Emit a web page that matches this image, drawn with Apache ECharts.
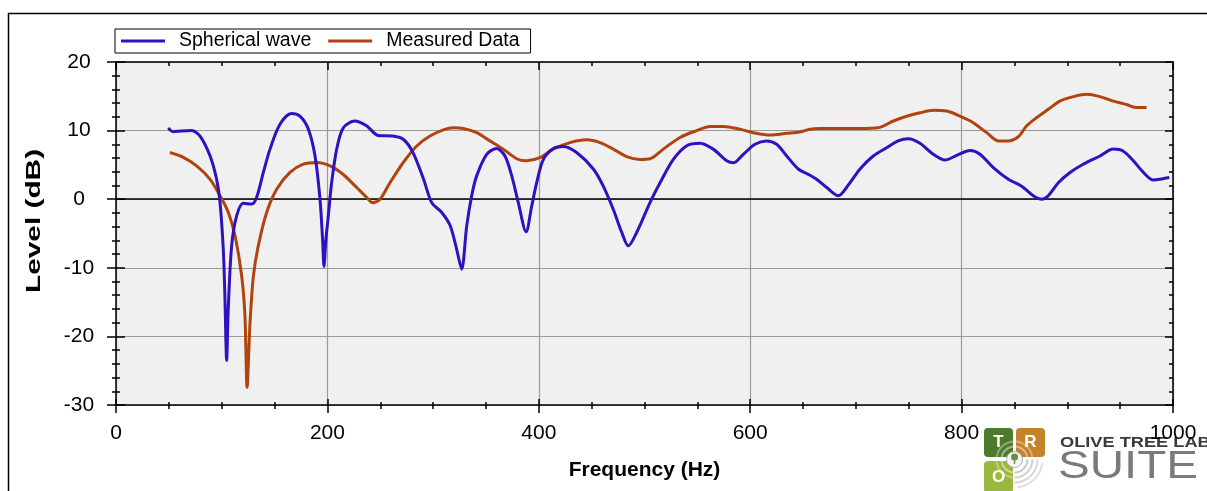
<!DOCTYPE html>
<html><head><meta charset="utf-8">
<script src="https://cdn.jsdelivr.net/npm/echarts@6/dist/echarts.min.js"></script>
<style>html,body{margin:0;padding:0;background:#fff}#c{width:1207px;height:491px}</style>
</head><body><div id="c"></div>
<script>
// ---- data ----
const sphericalFreq = [49.5,54,62,71.6,79.5,89,95.2,98.4,101.5,103,104.7,106.2,109.4,114.2,120.5,128.4,133,139.4,145.7,155,166,174,182,188.3,193,195.5,196.8,198.5,200.9,204,208.8,215,226,237,248,262,272,281,291,298.7,308,316,322.3,327,331.8,336.5,341.2,350.7,360,368,374.4,380.6,388,393.3,398,404.3,413.7,423.2,435.8,451.6,461,470.5,478.4,484.7,492.6,505.2,514.7,527.3,540,552.5,565,577.8,584,593.5,604.5,615.6,625,634.5,645.5,656.6,662.8,672.4,683.3,694.4,703.9,716.4,729,740,749.6,760.6,773.2,784.3,795.4,808,817.4,830,844.2,856.8,867.8,875.8,882,891.5,902.6,915,931,943.5,953,962.5,972,981.4,987.7,996.5];
const sphericalLevel = [10.4,9.85,9.95,10.0,9.2,6.3,2.9,-0.45,-7.3,-14,-23.5,-16,-6.8,-2.4,-0.6,-0.7,0.25,3.9,7.3,10.9,12.5,12.1,10.2,6.3,0,-6,-9.8,-6,-2.4,2.4,7.3,10.4,11.4,10.7,9.3,9.2,8.7,6.8,2.9,-0.5,-1.9,-3.8,-7.3,-10.2,-3.9,0.5,3.4,6.55,7.4,6.3,3.4,-0.5,-4.75,-1,2.4,5.8,7.4,7.7,6.8,4.4,1.9,-1.5,-4.8,-6.8,-4.85,-0.5,2.4,5.8,7.8,8.15,7.3,5.6,5.3,6.55,8.0,8.5,8.0,6.3,4.4,3.5,2.9,1.7,0.5,2.4,4.4,6.3,7.5,8.5,8.8,8.15,6.55,5.7,6.4,7.1,6.55,4.6,2.9,1.9,0.5,0,0.5,2.4,3.9,5.1,6.3,7.3,7.0,5.6,3.9,2.8,2.9,3.15];
const measuredFreq = [51,63.7,76.3,89,98.4,106.2,112.6,118.9,122,124,126.8,130,134.6,142.6,152,164.6,177.2,189.9,202.5,215,227.7,237.2,242.8,249.8,259.2,271.8,284.5,297,309.7,319.1,328.6,341.2,353.8,366.4,379,388.5,401,413.7,429.5,445.3,457.9,470.5,483.1,495.7,505.2,517.8,533.6,549.4,562,574.6,590.3,603,618.7,634.5,647,656.6,666,685,704,721,735.4,748,760.6,773.2,785.8,798.5,811,823.7,834.7,844.2,853.6,861.6,871,882,893,905.7,918.3,931,943.5,956,965.6,975];
const measuredLevel = [6.8,6.1,4.85,2.9,0.5,-1.9,-5.3,-11.2,-17,-27.4,-18,-11.2,-6.8,-1.9,1.45,3.9,5.1,5.35,4.85,3.6,1.7,0.25,-0.5,0,2.4,5.35,7.75,9.2,10.1,10.4,10.3,9.7,8.5,7.3,5.9,5.6,6.05,7.3,8.25,8.65,8.25,7.3,6.2,5.8,5.9,7.3,9.0,10.0,10.6,10.6,10.2,9.7,9.35,9.6,9.8,10.2,10.3,10.3,10.3,10.4,11.4,12.1,12.6,12.95,12.85,12.1,11.15,9.7,8.5,8.5,9.1,10.7,11.9,13.1,14.3,14.95,15.3,14.95,14.3,13.8,13.35,13.35];
const seriesNames = ['Spherical wave', 'Measured Data'];
const xRange = [0, 1000], xStep = 200;
const yRange = [-30, 20], yStep = 10;
const xTitle = 'Frequency (Hz)';
const yTitle = 'Level (dB)';

// ---- chart ----
const FONT = '"Liberation Sans", Arial, sans-serif';
const zip = (a, b) => a.map((v, i) => [v, b[i]]);
const blk = { color: '#000', width: 1.5 };
const xBase = { type: 'value', min: xRange[0], max: xRange[1], interval: xStep, axisLabel: { show: false }, splitLine: { show: false } };
const yBase = { type: 'value', min: yRange[0], max: yRange[1], interval: yStep, axisLabel: { show: false }, splitLine: { show: false } };

const chart = echarts.init(document.getElementById('c'));
chart.setOption({
  animation: false,
  backgroundColor: '#fff',
  grid: { left: 116, right: 34, top: 62, bottom: 86, show: true, backgroundColor: '#f0f0f0', borderWidth: 0 },
  legend: {
    left: 115, top: 29, orient: 'horizontal', icon: 'rect',
    borderColor: '#000', borderWidth: 1, backgroundColor: '#fff',
    padding: [2, 11, 2, 6], itemGap: 17, itemWidth: 44, itemHeight: 3,
    textStyle: { fontSize: 19.5, color: '#000', fontFamily: FONT, padding: [0, 0, 0, 9] },
    data: seriesNames
  },
  xAxis: [
    Object.assign({}, xBase, {
      position: 'bottom',
      axisLine: { onZero: false, lineStyle: blk },
      axisTick: { show: true, inside: false, length: 8, lineStyle: blk },
      minorTick: { show: true, splitNumber: 4, length: 4, lineStyle: blk },
      axisLabel: { show: true, margin: 28, fontSize: 21, color: '#000', fontFamily: FONT, verticalAlign: 'middle', formatter: v => String(v) },
      splitLine: { show: true, lineStyle: { color: '#9a9a9a', width: 1.2 } }
    }),
    Object.assign({}, xBase, {
      position: 'bottom',
      axisLine: { show: false, onZero: false },
      axisTick: { show: true, inside: true, length: 6, lineStyle: blk },
      minorTick: { show: true, splitNumber: 4, length: 3, lineStyle: blk }
    }),
    Object.assign({}, xBase, {
      position: 'top',
      axisLine: { onZero: false, lineStyle: blk },
      axisTick: { show: true, inside: true, length: 8, lineStyle: blk },
      minorTick: { show: true, splitNumber: 4, length: 4, lineStyle: blk }
    }),
    Object.assign({}, xBase, {
      position: 'bottom',
      axisLine: { show: true, onZero: true, onZeroAxisIndex: 0, lineStyle: { color: '#000', width: 1.6 } },
      axisTick: { show: false }, minorTick: { show: false }
    })
  ],
  yAxis: [
    Object.assign({}, yBase, {
      position: 'left',
      axisLine: { onZero: false, lineStyle: blk },
      axisTick: { show: true, inside: false, length: 9, lineStyle: blk },
      minorTick: { show: true, splitNumber: 5, length: 4, lineStyle: blk },
      axisLabel: { show: true, margin: 37, align: 'center', fontSize: 21, color: '#000', fontFamily: FONT, formatter: v => String(v) },
      splitLine: { show: true, lineStyle: { color: '#9a9a9a', width: 1.2 } }
    }),
    Object.assign({}, yBase, {
      position: 'left',
      axisLine: { show: false, onZero: false },
      axisTick: { show: true, inside: true, length: 9, lineStyle: blk },
      minorTick: { show: true, splitNumber: 5, length: 4, lineStyle: blk }
    }),
    Object.assign({}, yBase, {
      position: 'right',
      axisLine: { onZero: false, lineStyle: blk },
      axisTick: { show: true, inside: true, length: 8, lineStyle: blk },
      minorTick: { show: true, splitNumber: 5, length: 4, lineStyle: blk }
    })
  ],
  series: [
    { name: seriesNames[0], type: 'line', xAxisIndex: 0, yAxisIndex: 0, data: zip(sphericalFreq, sphericalLevel),
      symbol: 'none', smooth: 0.3, z: 3, lineStyle: { color: '#3010c0', width: 3 }, itemStyle: { color: '#3010c0' } },
    { name: seriesNames[1], type: 'line', xAxisIndex: 0, yAxisIndex: 0, data: zip(measuredFreq, measuredLevel),
      symbol: 'none', smooth: 0.3, z: 2, lineStyle: { color: '#b0440f', width: 3 }, itemStyle: { color: '#b0440f' } }
  ],
  graphic: [
    { type: 'rect', silent: true, z: -1, shape: { x: 8.5, y: 13.5, width: 1400, height: 800 }, style: { fill: 'none', stroke: '#000', lineWidth: 1.5 } },
    { type: 'text', silent: true, x: 34, y: 221, rotation: Math.PI / 2, scaleX: 1.42,
      style: { text: yTitle, fontSize: 21, fontWeight: 'bold', fontFamily: FONT, fill: '#000', align: 'center', verticalAlign: 'middle' } },
    { type: 'text', silent: true, x: 644.5, y: 470,
      style: { text: xTitle, fontSize: 21, fontWeight: 'bold', fontFamily: FONT, fill: '#000', align: 'center', verticalAlign: 'middle' } },
    // logo
    { type: 'group', silent: true, z: -1, children: [
      { type: 'rect', shape: { x: 984, y: 428, width: 29, height: 29, r: 4 }, style: { fill: '#4e7b2b' } },
      { type: 'rect', shape: { x: 1016, y: 428, width: 29, height: 29, r: 4 }, style: { fill: '#c4822a' } },
      { type: 'rect', shape: { x: 984, y: 461, width: 29, height: 32, r: 4 }, style: { fill: '#9bb83c' } },
      { type: 'arc', shape: { cx: 1014.5, cy: 459.5, r: 13, startAngle: 0, endAngle: Math.PI * 2 }, style: { fill: 'none', stroke: 'rgba(255,255,255,0.45)', lineWidth: 2 } },
      { type: 'arc', shape: { cx: 1014.5, cy: 459.5, r: 18, startAngle: 0, endAngle: Math.PI * 2 }, style: { fill: 'none', stroke: 'rgba(255,255,255,0.35)', lineWidth: 2 } },
      { type: 'arc', shape: { cx: 1014.5, cy: 459.5, r: 13, startAngle: 0, endAngle: Math.PI / 2 }, style: { fill: 'none', stroke: '#c8c8c8', lineWidth: 2 } },
      { type: 'arc', shape: { cx: 1014.5, cy: 459.5, r: 18, startAngle: 0, endAngle: Math.PI / 2 }, style: { fill: 'none', stroke: '#d0d0d0', lineWidth: 2 } },
      { type: 'arc', shape: { cx: 1014.5, cy: 459.5, r: 23, startAngle: 0, endAngle: Math.PI / 2 }, style: { fill: 'none', stroke: '#d8d8d8', lineWidth: 2 } },
      { type: 'arc', shape: { cx: 1014.5, cy: 459.5, r: 28, startAngle: 0.1, endAngle: Math.PI / 2 - 0.1 }, style: { fill: 'none', stroke: '#e0e0e0', lineWidth: 2 } },
      { type: 'circle', shape: { cx: 1014.5, cy: 459.5, r: 8 }, style: { fill: '#f4f4f4', stroke: '#b0b0b0', lineWidth: 1 } },
      { type: 'circle', shape: { cx: 1014.5, cy: 457, r: 3.5 }, style: { fill: '#6d8f3c' } },
      { type: 'rect', shape: { x: 1013.8, y: 459, width: 1.4, height: 5 }, style: { fill: '#6d8f3c' } },
      { type: 'text', x: 998.5, y: 442.5, style: { text: 'T', fontSize: 17, fontWeight: 'bold', fontFamily: FONT, fill: '#fff', align: 'center', verticalAlign: 'middle' } },
      { type: 'text', x: 1030.5, y: 442.5, style: { text: 'R', fontSize: 17, fontWeight: 'bold', fontFamily: FONT, fill: '#fff', align: 'center', verticalAlign: 'middle' } },
      { type: 'text', x: 998.5, y: 477, style: { text: 'O', fontSize: 17, fontWeight: 'bold', fontFamily: FONT, fill: '#fff', align: 'center', verticalAlign: 'middle' } },
      { type: 'text', x: 1060, y: 443, scaleX: 1.3, style: { text: 'OLIVE TREE LAB', fontSize: 14, fontWeight: 'bold', fontFamily: FONT, fill: '#3a3a3a', align: 'left', verticalAlign: 'middle' } },
      { type: 'text', x: 1058, y: 468, scaleX: 1.25, style: { text: 'SUITE', fontSize: 38, fontFamily: FONT, fill: '#7a7a7a', align: 'left', verticalAlign: 'middle' } }
    ] }
  ]
});
</script></body></html>
